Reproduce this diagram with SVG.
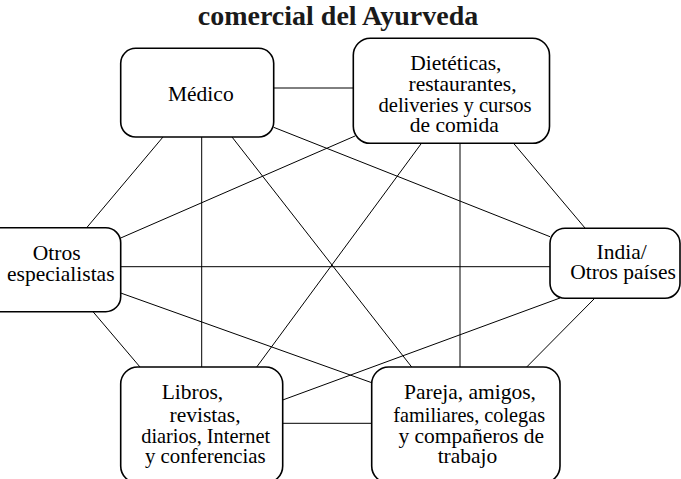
<svg xmlns="http://www.w3.org/2000/svg" width="681" height="479" viewBox="0 0 681 479">
<style>
.box{fill:#fff;stroke:#000;stroke-width:1.6}
.edge{stroke:#000;stroke-width:1;fill:none}
.lbl{font-family:"Liberation Serif","Times New Roman",serif;font-size:21.5px;fill:#000;text-anchor:middle}
.title{font-family:"Liberation Serif","Times New Roman",serif;font-size:28px;font-weight:bold;fill:#1a1a1a;text-anchor:middle}
</style>
<rect width="681" height="479" fill="#fff"/>
<text class="title" x="338" y="25">comercial del Ayurveda</text>
<g id="connectors">
<line class="edge" x1="273.7" y1="88" x2="353.3" y2="88"/>
<line class="edge" x1="163" y1="137" x2="86.7" y2="227.7"/>
<line class="edge" x1="201.7" y1="137" x2="201.7" y2="367"/>
<line class="edge" x1="232" y1="137" x2="411.7" y2="367"/>
<line class="edge" x1="273.7" y1="127.3" x2="550" y2="236.7"/>
<line class="edge" x1="355" y1="136" x2="120.7" y2="238"/>
<line class="edge" x1="421.7" y1="143" x2="256.7" y2="367"/>
<line class="edge" x1="460" y1="143" x2="460" y2="367"/>
<line class="edge" x1="513.3" y1="143" x2="585" y2="228"/>
<line class="edge" x1="120.7" y1="266.7" x2="550" y2="266.7"/>
<line class="edge" x1="120.7" y1="293" x2="371.7" y2="382.7"/>
<line class="edge" x1="93" y1="311.7" x2="140" y2="367"/>
<line class="edge" x1="560" y1="298" x2="282.7" y2="400"/>
<line class="edge" x1="595" y1="298" x2="526.7" y2="367"/>
<line class="edge" x1="282.7" y1="423.3" x2="371.7" y2="423.3"/>
</g>
<g id="medico">
<rect class="box" x="120.7" y="48.3" width="153" height="88.7" rx="15"/>
<text class="lbl" x="200.8" y="101">Médico</text>
</g>
<g id="dieteticas">
<rect class="box" x="353.3" y="38.3" width="196.2" height="105" rx="17"/>
<text class="lbl"><tspan x="455.8" y="70">Dietéticas,</tspan><tspan x="462.5" y="91">restaurantes,</tspan><tspan x="455" y="111.7" textLength="153" lengthAdjust="spacingAndGlyphs">deliveries y cursos</tspan><tspan x="454.2" y="131.7">de comida</tspan></text>
</g>
<g id="otros-especialistas">
<rect class="box" x="-40" y="227.7" width="160.7" height="84" rx="15"/>
<text class="lbl"><tspan x="56.7" y="260">Otros</tspan><tspan x="60.8" y="280.5">especialistas</tspan></text>
</g>
<g id="india">
<rect class="box" x="550" y="228.3" width="130" height="70" rx="15"/>
<text class="lbl"><tspan x="621.7" y="259">India/</tspan><tspan x="623" y="279">Otros países</tspan></text>
</g>
<g id="libros">
<rect class="box" x="120.7" y="367" width="162" height="116" rx="17"/>
<text class="lbl"><tspan x="192.5" y="399.3">Libros,</tspan><tspan x="205" y="421.7">revistas,</tspan><tspan x="205.7" y="442.7" textLength="129" lengthAdjust="spacingAndGlyphs">diarios, Internet</tspan><tspan x="205.3" y="462.7" textLength="120.7" lengthAdjust="spacingAndGlyphs">y conferencias</tspan></text>
</g>
<g id="pareja">
<rect class="box" x="371.7" y="367" width="188.3" height="116" rx="17"/>
<text class="lbl"><tspan x="470" y="399.3">Pareja, amigos,</tspan><tspan x="469.2" y="421.7" textLength="151.7" lengthAdjust="spacingAndGlyphs">familiares, colegas</tspan><tspan x="471.3" y="442.7">y compañeros de</tspan><tspan x="467.5" y="462.7">trabajo</tspan></text>
</g>
</svg>
